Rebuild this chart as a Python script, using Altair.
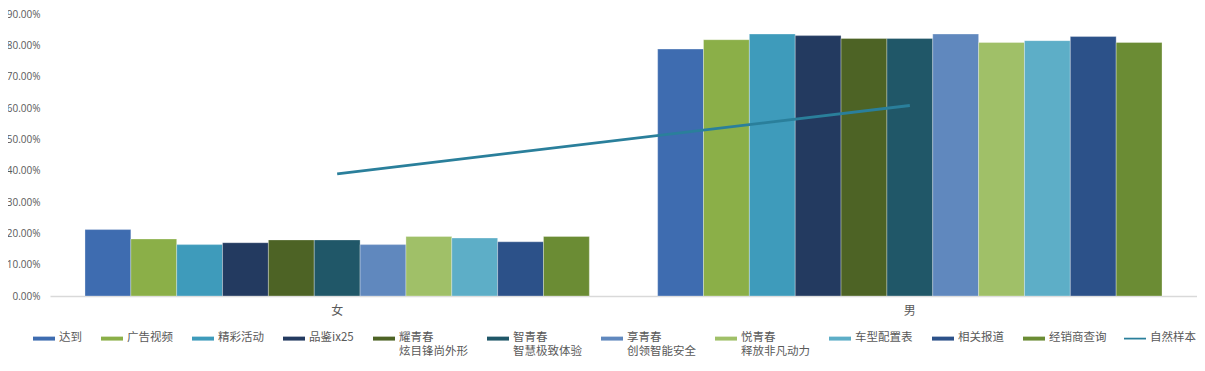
import altair as alt
import pandas as pd

genders = ["女", "男"]
series = ["达到", "广告视频", "精彩活动", "品鉴ix25", "耀青春|炫目锋尚外形", "智青春|智慧极致体验",
          "享青春|创领智能安全", "悦青春|释放非凡动力", "车型配置表", "相关报道", "经销商查询"]
female = [0.212, 0.182, 0.164, 0.170, 0.179, 0.179, 0.164, 0.190, 0.185, 0.173, 0.190]
male = [0.788, 0.818, 0.836, 0.831, 0.822, 0.822, 0.836, 0.809, 0.815, 0.828, 0.809]
colors = ["#3E6CB0", "#8BAF48", "#3E9BBB", "#233A60", "#4D6325", "#205768",
          "#6088BE", "#A0C068", "#5DAEC7", "#2C5189", "#6B8C34"]
line_name = "自然样本"
line_values = [0.390, 0.608]
line_color = "#2A7F9B"
y_ticks = [0.0, 0.1, 0.2, 0.3, 0.4, 0.5, 0.6, 0.7, 0.8, 0.9]

rows = []
for g, vals in zip(genders, [female, male]):
    for s, v in zip(series, vals):
        rows.append({"gender": g, "series": s, "value": v})
bars_df = pd.DataFrame(rows)
line_df = pd.DataFrame({"gender": genders, "line_series": [line_name] * 2, "value": line_values})

xscale = alt.Scale(domain=genders, paddingInner=0.1193, paddingOuter=0.0611)
yscale = alt.Scale(domain=[0, 0.9], nice=False)

common = dict(
    title=None, orient="none", direction="horizontal", columnPadding=19,
    labelFont="Noto Sans CJK SC", labelFontSize=11.5, labelColor="#595959",
    labelExpr="split(indexof(datum.label, '|') < 0 ? datum.label + '| ' : datum.label, '|')",
    labelBaseline="top", labelOffset=4, symbolSize=484, padding=0,
    symbolStrokeWidth=0, symbolOpacity=1,
)

bar_legend = alt.Legend(legendX=-17, legendY=307, columns=11,
                        symbolType="M-1,0.42H1V0.78H-1Z", **common)
line_legend = alt.Legend(legendX=1074, legendY=307, columns=1,
                         symbolType="M-1,0.52H1V0.68H-1Z", symbolFillColor=line_color, **common)

xaxis = alt.Axis(title=None, labelAngle=0, ticks=False, tickSize=0, domainColor="#D9D9D9",
                 domainWidth=1.5, labelColor="#595959", labelFont="Noto Sans CJK SC",
                 labelFontSize=12, labelPadding=9)
yaxis = alt.Axis(title=None, format=".2%", values=y_ticks, ticks=False,
                 tickSize=0, domain=False, grid=False, labelColor="#595959",
                 labelFont="Open Sans", labelFontSize=10, labelPadding=10,
                 labelAlign="right", labelOverlap=False, labelFlush=False)

bars = alt.Chart(bars_df).mark_bar(stroke="white", strokeWidth=0.6, strokeOpacity=0.5).encode(
    x=alt.X("gender:N", scale=xscale, axis=xaxis, sort=genders),
    xOffset=alt.XOffset("series:N", sort=series, scale=alt.Scale(paddingInner=0, paddingOuter=0)),
    y=alt.Y("value:Q", scale=yscale, axis=yaxis),
    color=alt.Color("series:N", scale=alt.Scale(domain=series, range=colors),
                    legend=bar_legend, sort=series),
)

line = alt.Chart(line_df).mark_line(strokeWidth=2.8).encode(
    x=alt.X("gender:N", scale=xscale, axis=xaxis, sort=genders),
    y=alt.Y("value:Q", scale=yscale, axis=yaxis),
    stroke=alt.Stroke("line_series:N", scale=alt.Scale(domain=[line_name], range=[line_color]),
                      legend=line_legend),
)

chart = alt.layer(bars, line).properties(
    width=1147, height=282,
    background="white",
    autosize=alt.AutoSizeParams(type="none"),
    padding={"left": 42, "top": 6, "right": 0, "bottom": 75},
).configure_view(strokeWidth=0, stroke="transparent")

chart.save("out.html", embed_options={"renderer": "svg", "actions": False})
